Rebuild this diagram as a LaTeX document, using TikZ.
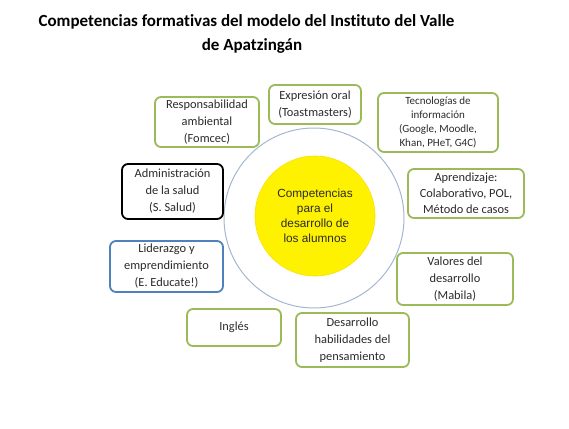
\documentclass[tikz,border=0pt]{standalone}
\usepackage{fontspec}
\setmainfont{Carlito}
\newfontfamily\arialfont{Liberation Sans}
\usetikzlibrary{positioning}
\definecolor{igreen}{HTML}{9BBB59}
\definecolor{iblue}{HTML}{4F81BD}
\definecolor{iring}{HTML}{A3B7D3}
\definecolor{itext}{HTML}{2B2B2B}

\tikzset{
  compbox/.style={draw=igreen, line width=1.8pt, rounded corners=6pt, fill=white,
    align=center, text=itext, inner sep=0pt,
    font=\fontsize{12.4}{17}\selectfont},
  titlefont/.style={font=\fontsize{17}{20}\selectfont\bfseries\addfontfeature{Ligatures=NoCommon}},
}

\begin{document}
\begin{tikzpicture}[x=1pt, y=-1pt]
\useasboundingbox (0,0) rectangle (569,428);
% title
\node[titlefont] (title) at (246.5,22) {Competencias formativas del modelo del Instituto del Valle};
\node[titlefont] (subtitle) at (252,45.5) {de Apatzingán};
% central circles
\node[circle, draw=iring, line width=1pt, minimum size=180pt] (ring) at (314,218) {};
\node[circle, draw=yellow!80!orange, line width=0.6pt, fill=yellow,
  minimum size=120pt, align=center, font=\arialfont\fontsize{11.8}{15}\selectfont, text=itext]
  (core) at (315,216) {Competencias\\para el\\desarrollo de\\los alumnos};
% boxes round the ring
\node[compbox, minimum width=104pt, minimum height=50pt] (ambiental) at (207,122)
  {Responsabilidad\\ambiental\\(Fomcec)};
\node[compbox, minimum width=92pt, minimum height=39pt] (oral) at (315,104.5)
  {Expresión oral\\(Toastmasters)};
\node[compbox, minimum width=120pt, minimum height=59pt, font=\fontsize{11}{14}\selectfont] (tecno) at (438,122.5)
  {Tecnologías de\\información\\(Google, Moodle,\\Khan, PHeT, G4C)};
\node[compbox, minimum width=116pt, minimum height=49pt, font=\fontsize{12.4}{16}\selectfont] (aprendizaje) at (466,193.5)
  {Aprendizaje:\\Colaborativo, POL,\\Método de casos};
\node[compbox, draw=black, minimum width=101pt, minimum height=55pt] (salud) at (172.5,191.5)
  {Administración\\de la salud\\(S. Salud)};
\node[compbox, draw=iblue, minimum width=113pt, minimum height=51pt] (liderazgo) at (166.5,266.5)
  {Liderazgo y\\emprendimiento\\(E. Educate!)};
\node[compbox, minimum width=94pt, minimum height=37pt] (ingles) at (234,327.5)
  {Inglés};
\node[compbox, minimum width=113pt, minimum height=54pt] (pensamiento) at (352.5,340)
  {Desarrollo\\habilidades del\\pensamiento};
\node[compbox, minimum width=116pt, minimum height=52pt] (valores) at (455,279)
  {Valores del\\desarrollo\\(Mabila)};
\end{tikzpicture}
\end{document}
